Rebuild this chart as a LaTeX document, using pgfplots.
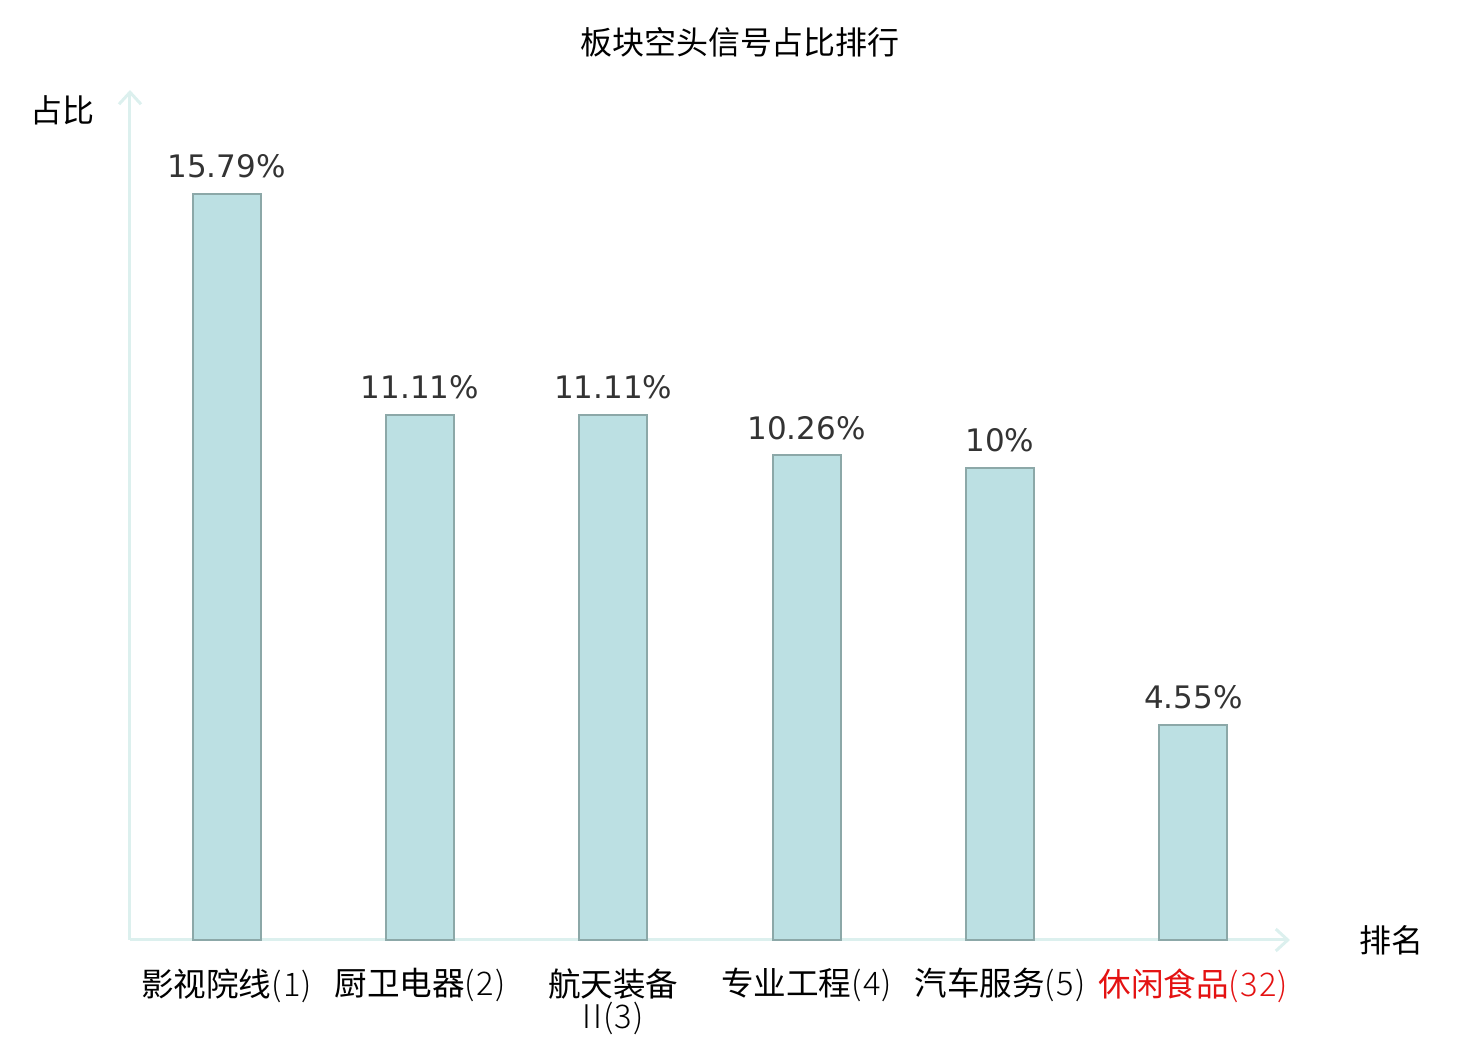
\documentclass[border=0pt]{standalone}
\usepackage{pgfplots}
\pgfplotsset{compat=1.18}
\usepackage{pgfplotstable}
\usepackage{fontspec}
\setmainfont{Noto Sans CJK SC}
\newfontfamily\dejavu{DejaVu Sans}
\newfontfamily\cjklight{Noto Sans CJK SC Light}
\newcommand{\lt}[1]{{\cjklight\addfontfeatures{LetterSpace=4}#1}}
\usetikzlibrary{arrows.meta}
\definecolor{barfill}{RGB}{188,224,227}
\definecolor{baredge}{RGB}{140,168,168}
\definecolor{axiscol}{RGB}{220,240,238}
\definecolor{lbl}{RGB}{51,51,51}
\definecolor{redlbl}{RGB}{228,18,18}
\pgfplotstableread{
x y
0 15.79
1 11.11
2 11.11
3 10.26
4 10
5 4.55
}\datatable
\begin{document}
\begin{tikzpicture}
\useasboundingbox (-65pt,-50pt) rectangle (675pt,470pt);
\begin{axis}[
  at={(0,0)}, anchor=south west,
  scale only axis, width=580pt, height=425pt,
  xmin=-0.5, xmax=5.5, ymin=0, ymax=18,
  axis lines=left,
  axis line style={draw=axiscol, line width=1.5pt, -{Straight Barb[length=6pt,width=11pt]}},
  ytick=\empty,
  xtick=data,
  major tick length=0pt,
  xticklabels={影视院线\lt{(1)},厨卫电器\lt{(2)},{航天装备\\\lt{II(3)}},专业工程\lt{(4)},汽车服务\lt{(5)},{\textcolor{redlbl}{休闲食品\lt{(32)}}}},
  xticklabel style={anchor=north, align=center, inner sep=0pt, yshift=-14pt, font=\fontsize{16.3}{16}\selectfont, text=black},
  ybar, bar width=34pt,
  nodes near coords={\pgfmathprintnumber[assume math mode=true]{\pgfplotspointmeta}\%},
  every node near coord/.append style={font=\dejavu\fontsize{15.5}{18}\selectfont, text=lbl, inner sep=0pt, yshift=7.5pt, anchor=south},
  clip=false,
]
\addplot[fill=barfill, draw=baredge, line width=1pt] table[x=x, y=y] {\datatable};
\end{axis}
\node[font=\fontsize{16}{16}\selectfont, text=black] at (305pt,449pt) {板块空头信号占比排行};
\node[font=\fontsize{16}{16}\selectfont, text=black] at (-33.5pt,415pt) {占比};
\node[font=\fontsize{16}{16}\selectfont, text=black] at (630.5pt,0pt) {排名};
\end{tikzpicture}
\end{document}
